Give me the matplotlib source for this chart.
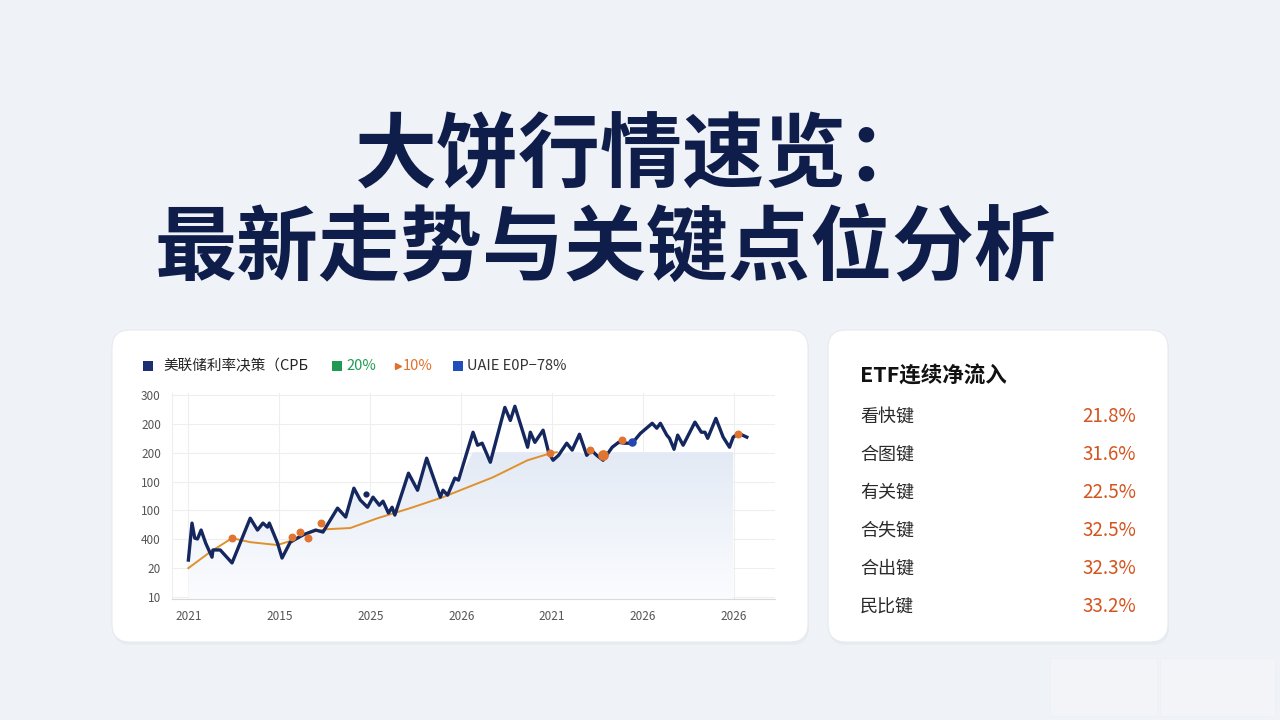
import numpy as np
import matplotlib.pyplot as plt
from matplotlib.patches import FancyBboxPatch, Rectangle
from matplotlib.colors import LinearSegmentedColormap

plt.rcParams['font.family'] = ['Noto Sans CJK SC', 'DejaVu Sans']

# ---- datos ----
titulo_1 = '大饼行情速览：'
titulo_2 = '最新走势与关键点位分析'

x_labels = ['2021', '2015', '2025', '2026', '2021', '2026', '2026']
y_labels = ['10', '20', '400', '100', '100', '200', '200', '300']

# línea principal (x en posiciones de tick, y en posiciones de tick)
precio_x = [0.00, 0.04, 0.07, 0.10, 0.14, 0.19, 0.26, 0.27, 0.35, 0.48, 0.68, 0.76, 0.82, 0.87,
            0.89, 0.98, 1.03, 1.12, 1.26, 1.40, 1.48, 1.64, 1.73, 1.82, 1.89, 1.97, 2.03, 2.10,
            2.14, 2.20, 2.24, 2.27, 2.42, 2.52, 2.62, 2.77, 2.80, 2.85, 2.93, 2.97, 3.13, 3.18,
            3.23, 3.32, 3.37, 3.48, 3.54, 3.59, 3.73, 3.76, 3.81, 3.90, 3.96, 4.01, 4.07, 4.16,
            4.22, 4.30, 4.38, 4.43, 4.49, 4.56, 4.66, 4.73, 4.80, 4.88, 4.97, 5.10, 5.15, 5.19,
            5.26, 5.29, 5.34, 5.38, 5.44, 5.57, 5.64, 5.68, 5.71, 5.80, 5.88, 5.95, 5.99, 6.05,
            6.14]
precio_y = [1.28, 2.56, 2.04, 2.01, 2.32, 1.87, 1.38, 1.63, 1.63, 1.18, 2.73, 2.32, 2.56, 2.42,
            2.56, 1.87, 1.35, 1.90, 2.15, 2.32, 2.25, 3.08, 2.77, 3.77, 3.36, 3.11, 3.46, 3.18,
            3.32, 2.91, 3.11, 2.84, 4.29, 3.70, 4.81, 3.46, 3.70, 3.53, 4.12, 4.05, 5.71, 5.26,
            5.33, 4.67, 5.26, 6.57, 6.12, 6.61, 5.19, 5.71, 5.36, 5.78, 5.02, 4.74, 4.91, 5.33,
            5.09, 5.64, 4.91, 5.09, 4.91, 4.74, 5.19, 5.36, 5.33, 5.33, 5.67, 6.02, 5.85, 6.02,
            5.61, 5.50, 5.12, 5.61, 5.26, 6.06, 5.71, 5.71, 5.50, 6.19, 5.54, 5.19, 5.54, 5.67,
            5.54]

# curva de tendencia (naranja)
tend_x = [0.00, 0.24, 0.48, 0.68, 0.98, 1.12, 1.34, 1.53, 1.78, 2.08, 2.44, 2.80, 2.99, 3.35,
          3.73, 3.98, 4.05]
tend_y = [1.00, 1.56, 2.04, 1.90, 1.80, 1.94, 2.25, 2.35, 2.39, 2.73, 3.08, 3.46, 3.70, 4.15,
          4.74, 4.98, 5.02]

# puntos destacados
naranja_x = [0.48, 1.14, 1.23, 1.31, 1.46, 3.98, 4.42, 4.77, 6.04]
naranja_y = [2.04, 2.08, 2.25, 2.04, 2.56, 4.98, 5.09, 5.43, 5.64]
grande_x, grande_y = [4.56], [4.91]
azul_x, azul_y = [4.88], [5.36]
oscuro_x, oscuro_y = [1.95], [3.56]

# área sombreada
area_fin = 6.03
area_tope = 5.02

# panel derecho
etf_titulo = 'ETF连续净流入'
etf_nombres = ['看快键', '合图键', '有关键', '合失键', '合出键', '民比键']
etf_valores = ['21.8%', '31.6%', '22.5%', '32.5%', '32.3%', '33.2%']

# leyenda
leyenda = [('美联储利率决策（CPБ', '#1b2f72', '#222222', 's'),
           ('20%', '#1f9a52', '#1f9a52', 's'),
           ('10%', '#e0702a', '#e0702a', '>'),
           ('UAIE E0P−78%', '#1f4fb8', '#333333', 's')]
leyenda_x = [143, 332, 393, 453]

# ---- colores ----
fondo = '#eff2f6'
azul_marino = '#14275e'
naranja = '#e0902c'
marcador = '#e07430'

fig = plt.figure(figsize=(12.8, 7.2), dpi=100)
fig.patch.set_facecolor(fondo)

# capa de fondo en píxeles
bg = fig.add_axes([0, 0, 1, 1], zorder=0)
bg.set_xlim(0, 1280)
bg.set_ylim(720, 0)
bg.axis('off')

for (x0, y0, w, h) in [(112, 330, 696, 312), (828, 330, 340, 312)]:
    sombra = FancyBboxPatch((x0 + 1, y0 + 3), w, h, boxstyle='round,pad=0,rounding_size=18',
                            fc='#e3e8ee', ec='none', alpha=0.6)
    bg.add_patch(sombra)
    card = FancyBboxPatch((x0, y0), w, h, boxstyle='round,pad=0,rounding_size=18',
                          fc='white', ec='#e6eaef', lw=0.8)
    bg.add_patch(card)

# marcas de agua tenues
for (x0, w) in [(1050, 107), (1160, 115)]:
    bg.add_patch(Rectangle((x0, 658), w, 58, fc='#f2f4f8', ec='#edf0f4', lw=0.6))

# títulos
bg.text(355, 158, titulo_1, fontsize=59, fontweight='heavy', color='#0f1d4a',
        ha='left', va='center')
bg.text(155, 250, titulo_2, fontsize=59, fontweight='heavy', color='#0f1d4a',
        ha='left', va='center')

# leyenda
for (txt, c_mark, c_txt, m), lx in zip(leyenda, leyenda_x):
    if m == 's':
        bg.add_patch(Rectangle((lx, 361), 10, 10, fc=c_mark, ec='none'))
        bg.text(lx + 20 if lx == 143 else lx + 14, 366, txt, fontsize=10.5, color=c_txt,
                ha='left', va='center', fontweight='medium')
    else:
        bg.plot([lx + 5], [366], marker=m, color=c_mark, markersize=5)
        bg.text(lx + 10, 366, txt, fontsize=10.5, color=c_txt, ha='left', va='center',
                fontweight='medium')

# panel derecho
bg.text(860, 376, etf_titulo, fontsize=15.5, fontweight='bold', color='#111111',
        ha='left', va='center')
for i, (n, v) in enumerate(zip(etf_nombres, etf_valores)):
    yy = 417 + i * 38
    bg.text(860, yy, n, fontsize=13, color='#2a2a2a', ha='left', va='center')
    bg.text(1136, yy, v, fontsize=13.5, color='#d4541f', ha='right', va='center',
            fontweight='medium')

# ---- gráfico principal ----
ax = fig.add_axes([172 / 1280, 121 / 720, 603 / 1280, 206 / 720], zorder=1)
ax.set_facecolor('none')

px = np.array(precio_x)
py = np.array(precio_y)
mask = px <= area_fin
y_min, y_max = -0.07, 7.07
poly = ax.fill_between(px[mask], y_min, np.minimum(py[mask], area_tope), color='none')
grad = LinearSegmentedColormap.from_list('g', ['#fbfcfe', '#e3eaf5'])
img = ax.imshow(np.linspace(0, 1, 256).reshape(-1, 1), extent=[0, area_fin, y_min, area_tope],
                aspect='auto', cmap=grad, origin='lower', zorder=1)
img.set_clip_path(poly.get_paths()[0], transform=ax.transData)

ax.plot(tend_x, tend_y, color=naranja, lw=1.4, zorder=3)
ax.plot(px, py, color=azul_marino, lw=2.4, zorder=4, solid_joinstyle='round')
ax.scatter(naranja_x, naranja_y, s=22, color=marcador, zorder=5)
ax.scatter(grande_x, grande_y, s=45, color=marcador, zorder=5)
ax.scatter(azul_x, azul_y, s=26, color='#2547b0', zorder=5)
ax.scatter(oscuro_x, oscuro_y, s=12, color=azul_marino, zorder=5)

ax.set_xlim(-0.18, 6.45)
ax.set_ylim(y_min, y_max)
ax.set_xticks(range(len(x_labels)))
ax.set_xticklabels(x_labels)
ax.set_yticks(range(len(y_labels)))
ax.set_yticklabels(y_labels)
ax.tick_params(length=0, labelsize=8.5, labelcolor='#555555', pad=8)
ax.grid(True, color='#eeeeee', lw=0.8, zorder=0)
ax.set_axisbelow(True)
for s in ['top', 'right']:
    ax.spines[s].set_visible(False)
ax.spines['left'].set_color('#eeeeee')
ax.spines['bottom'].set_color('#d6d9de')

fig.savefig('out.png', dpi=100, facecolor=fondo)
